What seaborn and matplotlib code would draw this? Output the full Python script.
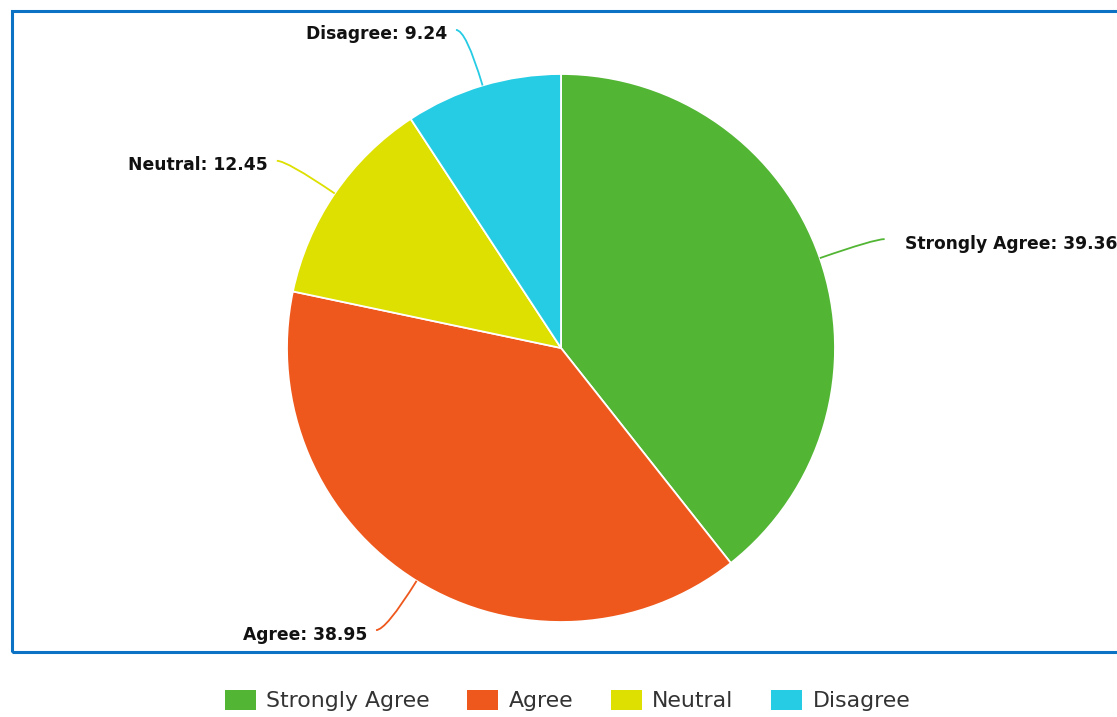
import numpy as np
import matplotlib
matplotlib.use("Agg")
import matplotlib.pyplot as plt
from matplotlib.path import Path
from matplotlib.patches import PathPatch, Rectangle
import seaborn as sns

categories = ["Strongly Agree", "Agree", "Neutral", "Disagree"]
values = [39.36, 38.95, 12.45, 9.24]
value_labels = ["39.36", "38.95", "12.45", "9.24"]
colors = ["#52B534", "#EE581C", "#DDE000", "#26CBE4"]

sns.set_theme(style="white")
plt.rcParams['font.family'] = ['DejaVu Sans']

W, H = 1117, 717
fig = plt.figure(figsize=(W / 100, H / 100), dpi=100)
ax = fig.add_axes([0, 0, 1, 1])
ax.set_xlim(0, W)
ax.set_ylim(0, H)

cx, cy, r = 561, H - 348, 274
palette = sns.color_palette(colors)
wedges, _ = ax.pie(values, startangle=90, counterclock=False, center=(cx, cy),
                   radius=r, colors=palette,
                   wedgeprops=dict(edgecolor="white", linewidth=1.3))
ax.set_xlim(0, W)
ax.set_ylim(0, H)
ax.set_aspect("equal")
ax.axis("off")

R = r + 58
for w, cat, lab, col in zip(wedges, categories, value_labels, palette):
    a = np.deg2rad((w.theta1 + w.theta2) / 2)
    ex, ey = cx + r * np.cos(a), cy + r * np.sin(a)
    px, py = cx + R * np.cos(a), cy + R * np.sin(a)
    side = 1 if np.cos(a) >= 0 else -1
    endx = px + side * 10
    path = Path([(ex, ey), (px, py), (endx, py)], [Path.MOVETO, Path.CURVE3, Path.CURVE3])
    ax.add_patch(PathPatch(path, fill=False, edgecolor=col, linewidth=1.3))
    gap = 20 if side > 0 else 9
    ax.text(endx + side * gap, py - 9.5, f"{cat}: {lab}", ha="left" if side > 0 else "right",
            va="baseline", fontsize=12.3, fontweight="bold", color="#111111")

# frame
fig.add_artist(Rectangle((11.5 / W, 1 - 651.5 / H), (1200 - 11.5) / W, (651.5 - 10.5) / H,
                         transform=fig.transFigure, fill=False, edgecolor="#0B72C4",
                         linewidth=2.2, clip_on=False))

handles = [Rectangle((0, 0), 1, 1, facecolor=c, edgecolor="none") for c in palette]
fs = 15.8
leg = fig.legend(handles, categories, loc="center", bbox_to_anchor=(567.5 / W, 1 - 700.5 / H),
                 ncol=4, frameon=False, handlelength=1.41, handleheight=1.05,
                 handletextpad=0.46, columnspacing=1.73,
                 prop={"family": "DejaVu Sans", "size": fs})
for t in leg.get_texts():
    t.set_color("#333333")

fig.savefig("out.png", dpi=100)
